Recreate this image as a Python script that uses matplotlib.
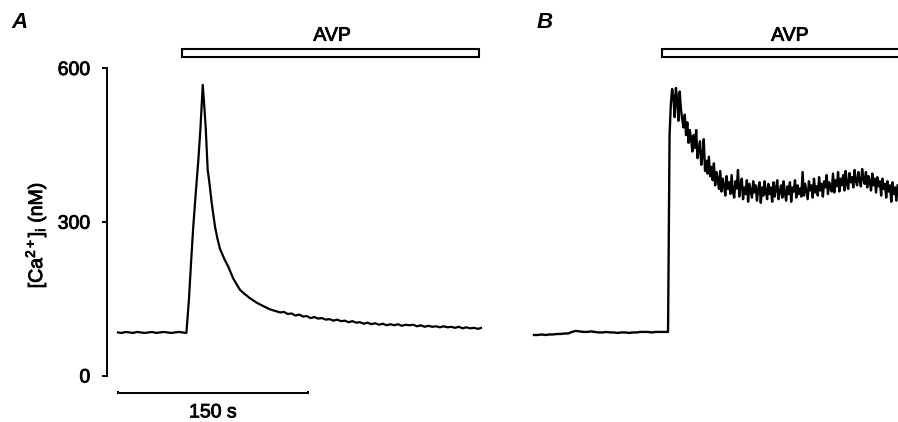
import numpy as np
import matplotlib
matplotlib.use("Agg")
import matplotlib.pyplot as plt
from matplotlib.patches import Rectangle
import matplotlib.patheffects as pe

plt.rcParams['font.family'] = ['Liberation Sans', 'DejaVu Sans']
plt.rcParams['mathtext.fontset'] = 'custom'
plt.rcParams['mathtext.rm'] = 'Liberation Sans'
plt.rcParams['mathtext.it'] = 'Liberation Sans'
plt.rcParams['mathtext.bf'] = 'Liberation Sans:bold'
plt.rcParams['mathtext.default'] = 'rm'

# ---------------- data (time in s, [Ca2+]i in nM) ----------------
# Panel A
a_base_t0, a_base_dt = 0.0, 3.0
a_base_v = [85, 84, 86, 85, 84, 86, 85, 84, 85, 86, 84, 85, 86, 85, 84, 85, 86, 85, 84]
a_peak_t = [56, 58, 59.4, 61, 63.4, 65, 66.9, 68, 69.2, 70.8, 72, 74, 76.6, 78.5, 80.5,
            84, 87.1, 91, 96.3, 100, 104, 109.5, 115, 120, 125.3]
a_peak_v = [150, 235, 291, 345, 421, 480, 568, 530, 486, 402, 380, 337, 291, 268, 248,
            228, 213, 190, 168, 160, 152, 143, 136, 130, 126]
a_tail_t0, a_tail_dt = 128.0, 3.0
a_tail_v = [124, 125, 121, 122, 118, 120, 116, 117, 113, 115, 112, 113, 110, 111, 108,
            110, 107, 108, 105, 107, 104, 105, 102, 104, 101, 103, 100, 102, 99, 101,
            99, 101, 98, 100, 99, 100, 97, 99, 96, 98, 96, 97, 95, 97, 95, 96, 94, 96,
            93, 95, 93, 94, 92, 94]

# Panel B
b_base_t0, b_base_dt = 0.0, 3.0
b_base_v = [80, 80, 81, 80, 81, 81, 82, 82, 83, 83, 86, 88, 87, 86, 86, 87, 86, 85,
            85, 86, 85, 85, 84, 85, 85, 84, 85, 85, 86, 86, 86, 85, 86, 86, 86, 86]
b_foot_t, b_foot_v = 105.8, 86
b_resp_t0, b_resp_dt = 107.0, 1.0
b_resp_v = [470, 530, 560, 545, 505, 562, 540, 498, 555, 520,
            500, 485, 510, 470, 495, 455, 480, 462, 438, 470,
            445, 480, 425, 440, 458, 412, 430, 462, 400, 420,
            395, 428, 390, 408, 382, 415, 372, 398, 385, 365,
            400, 360, 385, 372, 352, 390, 365, 378, 355, 392,
            360, 348, 380, 366, 402, 350, 372, 385, 345, 368,
            355, 382, 340, 375, 362, 348, 380, 358, 372, 342,
            365, 378, 338, 368, 352, 380, 360, 345, 375, 355,
            368, 340, 378, 350, 365, 382, 345, 360, 372, 348,
            380, 358, 342, 370, 355, 378, 340, 368, 360, 382,
            348, 372, 355, 366, 350, 398, 352, 375, 360, 345,
            380, 362, 372, 348, 385, 358, 370, 352, 388, 362,
            375, 350, 380, 368, 392, 355, 378, 365, 360, 395,
            358, 382, 370, 398, 360, 385, 372, 392, 362, 400,
            375, 365, 396, 378, 388, 368, 402, 380, 372, 398,
            382, 370, 404, 385, 375, 398, 368, 390, 380, 362,
            395, 372, 385, 358, 388, 370, 380, 352, 385, 365,
            375, 348, 380, 360, 372, 340, 378, 355, 368, 342, 372]

# annotations
avp_label = "AVP"
avp_a_span = (50.5, 285.0)
avp_b_span = (101.0, 320.0)
scale_len = 150
scale_label = "150 s"
y_ticks = [0, 300, 600]
y_label = r'[Ca$^{2+}$]$_{\mathrm{i}}$ (nM)'

# ---------------- build series ----------------
a_t = np.concatenate([a_base_t0 + a_base_dt * np.arange(len(a_base_v)),
                      a_peak_t,
                      a_tail_t0 + a_tail_dt * np.arange(len(a_tail_v))])
a_v = np.concatenate([a_base_v, a_peak_v, a_tail_v])

b_t = np.concatenate([b_base_t0 + b_base_dt * np.arange(len(b_base_v)),
                      [b_foot_t],
                      b_resp_t0 + b_resp_dt * np.arange(len(b_resp_v))])
b_v = np.concatenate([b_base_v, [b_foot_v], b_resp_v])

# ---------------- figure ----------------
W, H = 898, 422
fig = plt.figure(figsize=(W / 100, H / 100), dpi=100)

def px_axes(left, right, top, bottom):
    return fig.add_axes([left / W, 1 - bottom / H, (right - left) / W, (bottom - top) / H])

XL = (-8.68, 287.3)
YL = (0, 600)

axA = px_axes(107, 482, 68.5, 376)
axB = px_axes(523, 898, 68.5, 376)

for ax in (axA, axB):
    ax.set_xlim(*XL)
    ax.set_ylim(*YL)
    ax.patch.set_alpha(0)
    for s in ax.spines.values():
        s.set_visible(False)
    ax.set_xticks([])
    ax.set_yticks([])

axA.plot(a_t, a_v, color='black', lw=1.6, solid_joinstyle='round')
axB.plot(b_t, b_v, color='black', lw=1.7, solid_joinstyle='round')

FS = 14
thick = [pe.withStroke(linewidth=0.6, foreground='black')]

# y axis for A
axA.spines['left'].set_visible(True)
axA.spines['left'].set_linewidth(1.4)
axA.set_yticks(y_ticks)
axA.set_yticklabels([str(v) for v in y_ticks], fontsize=FS)
for lab in axA.get_yticklabels():
    lab.set_path_effects(thick)
axA.tick_params(axis='y', direction='out', length=3.5, width=1.4, pad=8.5)
fig.text(36 / W, 1 - 235 / H, y_label, rotation=90, ha='center', va='center',
         fontsize=FS, path_effects=thick)

# scale bar
axA.plot([0, 0, scale_len, scale_len], [-31, -34, -34, -31], color='black', lw=1.4,
         clip_on=False, solid_joinstyle='miter')
axA.text(scale_len / 2, -72, scale_label, ha='center', va='center', fontsize=FS,
         path_effects=thick)

# AVP bars
for ax, span in ((axA, avp_a_span), (axB, avp_b_span)):
    ax.add_patch(Rectangle((span[0], 623), span[1] - span[0], 14.5, facecolor='white',
                           edgecolor='black', lw=1.5, clip_on=False))
axA.text(169, 663, avp_label, ha='center', va='center', fontsize=FS, path_effects=thick)
axB.text(202, 663, avp_label, ha='center', va='center', fontsize=FS, path_effects=thick)

# panel letters
fig.text(20 / W, 1 - 22.5 / H, "A", fontsize=16, fontweight='bold', fontstyle='italic',
         ha='center', va='center')
fig.text(545 / W, 1 - 22.5 / H, "B", fontsize=16, fontweight='bold', fontstyle='italic',
         ha='center', va='center')

fig.savefig("out.png", dpi=100)
